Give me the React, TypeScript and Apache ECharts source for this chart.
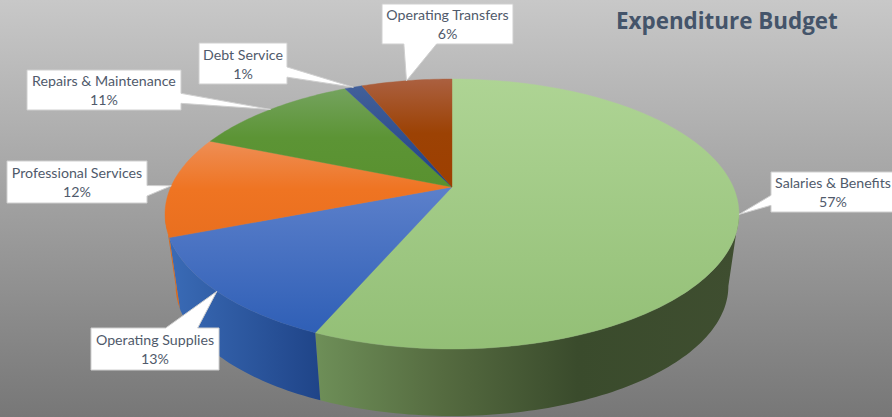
import React, { useEffect, useRef } from "react";
import * as echarts from "echarts";

const categories = ["Salaries & Benefits", "Operating Supplies", "Professional Services", "Repairs & Maintenance", "Debt Service", "Operating Transfers"];
const values = [56.5, 12.6, 12.1, 11.4, 1.2, 6.2];
const topColors = [
  ["#AED494", "#93BF76"],
  ["#5C80CB", "#2F5FB6"],
  ["#EE8E55", "#EF7422", "#E96F1F"],
  ["#74A35E", "#5C9435", "#59912F"],
  ["#42609A", "#1F4186"],
  ["#AB6040", "#9C4204", "#9E3F00"],
];
const wallStops: [number, string][][] = [
  [[0, "#6E8F58"], [0.3, "#556B40"], [0.62, "#3A4B2C"], [1, "#3F4E30"]],
  [[0, "#3A6BB6"], [1, "#1F4488"]],
  [[0, "#D96A1E"], [1, "#D96A1E"]],
  [[0, "#4F7A2A"], [1, "#4F7A2A"]],
  [[0, "#1F3F7A"], [1, "#1F3F7A"]],
  [[0, "#8A3A00"], [1, "#8A3A00"]],
];
const labelBoxes = [
  [771, 172, 124, 40],
  [91, 328, 128, 42],
  [7, 161, 140, 42],
  [27, 70, 154, 40],
  [199, 43, 88, 41],
  [382, 4, 131, 40],
];

const total = +values.reduce((a, b) => a + b, 0).toFixed(6);
const starts: number[] = [];
values.reduce((acc, v, i) => { starts[i] = acc; return acc + v; }, 0);

const CX = 452, APEX = 187, A = 281.2, B = 129.6, K = 0.2;
const WALL_SCALE = 0.963, WALL_DROP = 73;
// The wall is only seen between the two tangent angles of the projected circle.
const VIS_FROM = Math.acos(-K), VIS_TO = Math.PI * 2 - VIS_FROM;

const project = (theta: number, scale = 1, drop = 0): number[] => {
  const u = Math.sin(theta), v = Math.cos(theta);
  const d = 1 + K * v;
  return [CX + (scale * A * u) / d, APEX + drop - (scale * B * v) / d];
};
const sliceAngles = (i: number): number[] => [
  (starts[i] / total) * Math.PI * 2,
  ((starts[i] + values[i]) / total) * Math.PI * 2,
];
const arcBetween = (a0: number, a1: number, scale = 1, drop = 0): number[][] => {
  const n = Math.max(4, Math.ceil((a1 - a0) / 0.02));
  const pts: number[][] = [];
  for (let k = 0; k <= n; k++) pts.push(project(a0 + ((a1 - a0) * k) / n, scale, drop));
  return pts;
};

const renderWall = (params: any) => {
  const i = params.dataIndex;
  const [s, e] = sliceAngles(i);
  const a0 = Math.max(s, VIS_FROM), a1 = Math.min(e, VIS_TO);
  if (a1 <= a0) return null;
  const pts = [...arcBetween(a0, a1), ...arcBetween(a0, a1, WALL_SCALE, WALL_DROP).reverse()];
  const stops = wallStops[i].map(([offset, color]) => ({ offset, color }));
  return {
    type: "polygon",
    shape: { points: pts },
    style: { fill: new echarts.graphic.LinearGradient(0, 0, 1, 0, stops) },
  };
};

const renderTop = (params: any) => {
  const i = params.dataIndex;
  const cols = topColors[i];
  const stops = cols.map((color, k) => ({ offset: k / (cols.length - 1), color }));
  const [s, e] = sliceAngles(i);
  const fill = new echarts.graphic.LinearGradient(0, 0, 0, 1, stops);
  return {
    type: "polygon",
    shape: { points: [[CX, APEX], ...arcBetween(s, e)] },
    style: { fill, stroke: fill, lineWidth: 0.4 },
  };
};

const calloutPoints = (box: number[], tip: number[]): number[][] => {
  const [x, y, w, h] = box;
  const dx = (tip[0] - (x + w / 2)) / w;
  const dy = (tip[1] - (y + h / 2)) / h;
  const r = x + w, b = y + h;
  if (Math.abs(dx) > Math.abs(dy)) {
    const f0 = dy < 0 ? 2 / 12 : 7 / 12;
    const f1 = dy < 0 ? 5 / 12 : 10 / 12;
    const y0 = y + h * f0, y1 = y + h * f1;
    return dx < 0
      ? [[x, y], [r, y], [r, b], [x, b], [x, y1], tip, [x, y0]]
      : [[x, y], [r, y], [r, y0], tip, [r, y1], [r, b], [x, b]];
  }
  const f0 = dx < 0 ? 2 / 12 : 7 / 12;
  const f1 = dx < 0 ? 5 / 12 : 10 / 12;
  const x0 = x + w * f0, x1 = x + w * f1;
  return dy < 0
    ? [[x, y], [x0, y], tip, [x1, y], [r, y], [r, b], [x, b]]
    : [[x, y], [r, y], [r, b], [x1, b], tip, [x0, b], [x, b]];
};

const renderLabel = (params: any) => {
  const i = params.dataIndex;
  const box = labelBoxes[i];
  const [s, e] = sliceAngles(i);
  const tip = project((s + e) / 2);
  const pct = Math.round((values[i] * 100) / total);
  return {
    type: "group",
    children: [
      {
        type: "polygon",
        shape: { points: calloutPoints(box, tip) },
        style: { fill: "#FFFFFF", stroke: "#CFCFCF", lineWidth: 1 },
      },
      {
        type: "text",
        style: {
          text: `${categories[i]}\n${pct}%`,
          x: box[0] + box[2] / 2,
          y: box[1] + box[3] / 2,
          align: "center",
          verticalAlign: "middle",
          fill: "#505A6B",
          font: "14.2px Lato",
          lineHeight: 19,
        },
      },
    ],
  };
};

export default function App() {
  const ref = useRef<HTMLDivElement>(null);
  useEffect(() => {
    const chart = echarts.init(ref.current!, undefined, { renderer: "svg" });
    const base = { type: "custom", coordinateSystem: "none", data: values, silent: true, clip: false, animation: false };
    chart.setOption({
      animation: false,
      backgroundColor: new echarts.graphic.LinearGradient(0, 0, 0, 1, [
        { offset: 0, color: "#C8C8C8" },
        { offset: 1, color: "#777777" },
      ]),
      title: {
        text: "Expenditure Budget",
        left: 616,
        top: 9,
        padding: 0,
        textStyle: { fontFamily: "Open Sans", fontSize: 22.4, fontWeight: "bold", color: "#44546A" },
      },
      series: [
        { ...base, z: 1, renderItem: renderWall },
        { ...base, z: 2, renderItem: renderTop },
        { ...base, z: 3, renderItem: renderLabel },
      ],
    });
    return () => chart.dispose();
  }, []);
  return <div ref={ref} style={{ position: "absolute", left: 0, top: 0, width: 892, height: 417 }} />;
}
